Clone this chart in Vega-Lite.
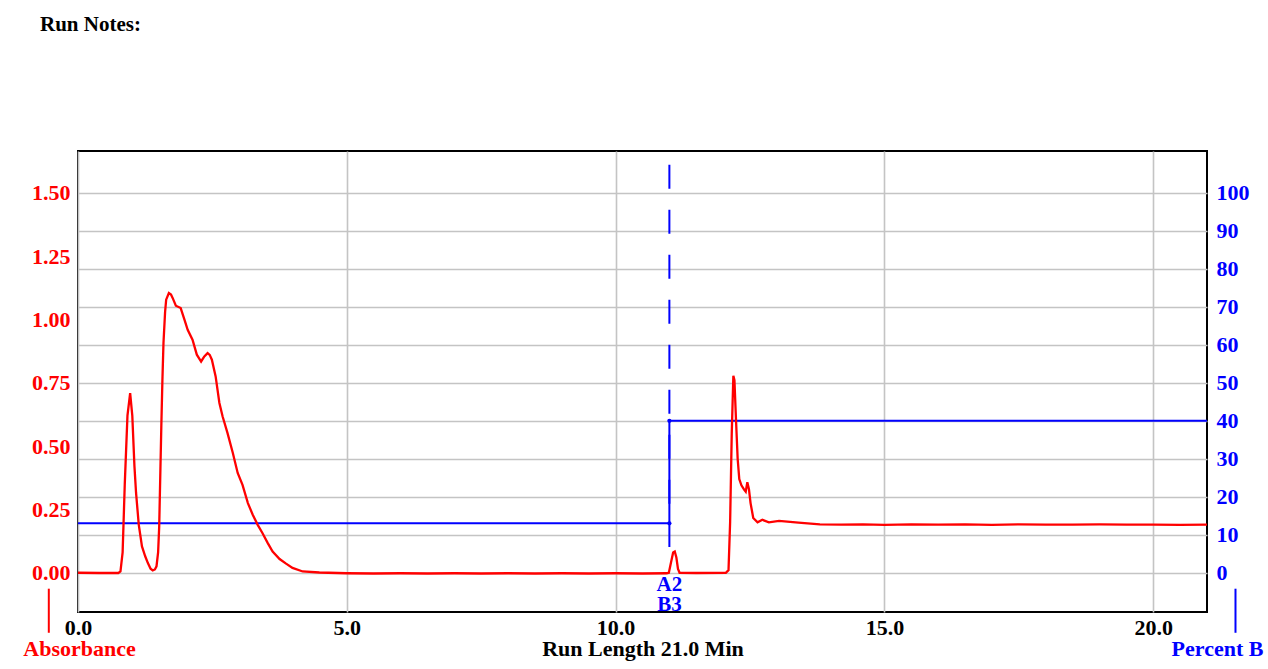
{
  "$schema": "https://vega.github.io/schema/vega-lite/v6.json",
  "autosize": "none",
  "width": 1129,
  "height": 461,
  "padding": {"left": 78, "top": 151, "right": 61, "bottom": 57},
  "background": "white",
  "title": {"text": "Run Notes:", "anchor": "start", "frame": "group", "dx": -38, "offset": 95, "baseline": "bottom", "font": "Liberation Serif", "fontSize": 21, "fontWeight": "bold", "color": "black"},
  "config": {
    "view": {"stroke": "black", "strokeWidth": 2},
    "axis": {"labelFont": "Liberation Serif", "labelFontSize": 22, "labelFontWeight": "bold", "titleFont": "Liberation Serif", "titleFontSize": 22, "titleFontWeight": "bold", "domain": false, "ticks": false, "gridColor": "#c4c4c4", "gridWidth": 1.6, "gridOpacity": 1}
  },
  "datasets": {
    "abs": [
      {"t": 0.00, "A": 0.000}, {"t": 0.40, "A": -0.001}, {"t": 0.75, "A": -0.001}, {"t": 0.79, "A": 0.005},
      {"t": 0.83, "A": 0.08}, {"t": 0.87, "A": 0.35}, {"t": 0.92, "A": 0.62}, {"t": 0.97, "A": 0.709},
      {"t": 1.01, "A": 0.62}, {"t": 1.05, "A": 0.42}, {"t": 1.08, "A": 0.315}, {"t": 1.13, "A": 0.19},
      {"t": 1.19, "A": 0.104}, {"t": 1.25, "A": 0.065}, {"t": 1.30, "A": 0.038}, {"t": 1.35, "A": 0.016},
      {"t": 1.39, "A": 0.009}, {"t": 1.43, "A": 0.013}, {"t": 1.46, "A": 0.025}, {"t": 1.49, "A": 0.08},
      {"t": 1.51, "A": 0.18}, {"t": 1.53, "A": 0.38}, {"t": 1.55, "A": 0.58}, {"t": 1.57, "A": 0.76},
      {"t": 1.59, "A": 0.907}, {"t": 1.62, "A": 1.03}, {"t": 1.64, "A": 1.078}, {"t": 1.69, "A": 1.104},
      {"t": 1.73, "A": 1.098}, {"t": 1.76, "A": 1.085}, {"t": 1.82, "A": 1.054}, {"t": 1.91, "A": 1.045},
      {"t": 1.98, "A": 0.999}, {"t": 2.04, "A": 0.959}, {"t": 2.13, "A": 0.92}, {"t": 2.21, "A": 0.861},
      {"t": 2.29, "A": 0.834}, {"t": 2.35, "A": 0.854}, {"t": 2.41, "A": 0.867}, {"t": 2.45, "A": 0.86},
      {"t": 2.49, "A": 0.841}, {"t": 2.56, "A": 0.775}, {"t": 2.63, "A": 0.67}, {"t": 2.69, "A": 0.617},
      {"t": 2.78, "A": 0.552}, {"t": 2.88, "A": 0.473}, {"t": 2.97, "A": 0.394}, {"t": 3.06, "A": 0.347},
      {"t": 3.16, "A": 0.275}, {"t": 3.25, "A": 0.229}, {"t": 3.34, "A": 0.19}, {"t": 3.43, "A": 0.157},
      {"t": 3.53, "A": 0.117}, {"t": 3.62, "A": 0.084}, {"t": 3.75, "A": 0.054}, {"t": 3.87, "A": 0.036},
      {"t": 3.99, "A": 0.019}, {"t": 4.18, "A": 0.005}, {"t": 4.49, "A": 0.001}, {"t": 5.0, "A": -0.002},
      {"t": 5.5, "A": -0.003}, {"t": 6.0, "A": -0.002}, {"t": 6.5, "A": -0.003}, {"t": 7.0, "A": -0.002},
      {"t": 7.5, "A": -0.003}, {"t": 8.0, "A": -0.002}, {"t": 8.5, "A": -0.003}, {"t": 9.0, "A": -0.002},
      {"t": 9.5, "A": -0.003}, {"t": 10.0, "A": -0.002}, {"t": 10.5, "A": -0.003}, {"t": 10.95, "A": -0.002},
      {"t": 10.99, "A": 0.0}, {"t": 11.03, "A": 0.04}, {"t": 11.07, "A": 0.08}, {"t": 11.10, "A": 0.084},
      {"t": 11.13, "A": 0.06}, {"t": 11.16, "A": 0.015}, {"t": 11.19, "A": 0.0}, {"t": 11.5, "A": -0.001},
      {"t": 12.05, "A": 0.0}, {"t": 12.10, "A": 0.01}, {"t": 12.13, "A": 0.2}, {"t": 12.16, "A": 0.55},
      {"t": 12.19, "A": 0.778}, {"t": 12.21, "A": 0.76}, {"t": 12.24, "A": 0.6}, {"t": 12.27, "A": 0.45},
      {"t": 12.30, "A": 0.37}, {"t": 12.34, "A": 0.345}, {"t": 12.39, "A": 0.328}, {"t": 12.42, "A": 0.32},
      {"t": 12.45, "A": 0.357}, {"t": 12.48, "A": 0.33}, {"t": 12.51, "A": 0.275}, {"t": 12.56, "A": 0.216},
      {"t": 12.64, "A": 0.199}, {"t": 12.73, "A": 0.209}, {"t": 12.85, "A": 0.199}, {"t": 13.04, "A": 0.205},
      {"t": 13.4, "A": 0.198}, {"t": 13.8, "A": 0.191}, {"t": 14.2, "A": 0.19}, {"t": 14.6, "A": 0.191},
      {"t": 15.0, "A": 0.189}, {"t": 15.5, "A": 0.191}, {"t": 16.0, "A": 0.19}, {"t": 16.5, "A": 0.191},
      {"t": 17.0, "A": 0.189}, {"t": 17.5, "A": 0.191}, {"t": 18.0, "A": 0.19}, {"t": 18.5, "A": 0.19},
      {"t": 19.0, "A": 0.191}, {"t": 19.5, "A": 0.19}, {"t": 20.0, "A": 0.19}, {"t": 20.5, "A": 0.189},
      {"t": 21.0, "A": 0.19}
    ],
    "grad": [
      {"i": 1, "t": 0, "B": 13}, {"i": 2, "t": 11.0, "B": 13}, {"i": 3, "t": 11.0, "B": 40}, {"i": 4, "t": 21.0, "B": 40}
    ],
    "dots": [{"t": 11.0, "B": 13}, {"t": 11.0, "B": 40}],
    "dash": [{"t": 11.0, "B": 107.4, "B2": 6.8}],
    "blueTick": [{"t": 21.53, "B": -4.2, "B2": -15.8}],
    "redTick": [{"t": -0.543, "A": -0.063, "A2": -0.237}],
    "labels": [{"t": 11.0, "A": -0.047, "label": "A2"}, {"t": 11.0, "A": -0.126, "label": "B3"}]
  },
  "encoding": {
    "x": {"field": "t", "type": "quantitative", "scale": {"domain": [0, 21], "nice": false, "zero": false},
      "axis": {"values": [0, 5, 10, 15, 20], "format": ".1f", "grid": true, "labelColor": "black", "labelPadding": 5, "title": "Run Length 21.0 Min", "titleColor": "black", "titlePadding": 0, "labelFlush": false}}
  },
  "layer": [
    {
      "encoding": {
        "y": {"field": "B", "type": "quantitative", "scale": {"domain": [-10.33, 111], "nice": false, "zero": false},
          "axis": {"orient": "right", "values": [0, 10, 20, 30, 40, 50, 60, 70, 80, 90, 100], "grid": true, "labelColor": "#0000ff", "labelPadding": 9, "title": "Percent B", "titleColor": "#0000ff", "titleAngle": 0, "titleAlign": "center", "titleBaseline": "middle", "titleX": 10, "titleY": 497}}
      },
      "layer": [
        {"data": {"name": "grad"}, "mark": {"type": "line", "color": "#0000ff", "strokeWidth": 2}, "encoding": {"order": {"field": "i"}}},
        {"data": {"name": "dots"}, "mark": {"type": "point", "filled": true, "color": "#0000ff", "size": 18, "opacity": 1}},
        {"data": {"name": "dash"}, "mark": {"type": "rule", "color": "#0000ff", "strokeWidth": 2, "strokeDash": [24, 21]}, "encoding": {"y2": {"field": "B2"}}},
        {"data": {"name": "blueTick"}, "mark": {"type": "rule", "color": "#0000ff", "strokeWidth": 2}, "encoding": {"y2": {"field": "B2"}}}
      ]
    },
    {
      "encoding": {
        "y": {"field": "A", "type": "quantitative", "scale": {"domain": [-0.155, 1.665], "nice": false, "zero": false},
          "axis": {"orient": "left", "values": [0, 0.25, 0.5, 0.75, 1.0, 1.25, 1.5], "format": ".2f", "grid": false, "labelColor": "#ff0000", "labelPadding": 8, "title": "Absorbance", "titleColor": "#ff0000", "titleAngle": 0, "titleAlign": "center", "titleBaseline": "middle", "titleX": 1, "titleY": 497}}
      },
      "layer": [
        {"data": {"name": "abs"}, "mark": {"type": "line", "color": "#ff0000", "strokeWidth": 2.3}},
        {"data": {"name": "redTick"}, "mark": {"type": "rule", "color": "#ff0000", "strokeWidth": 2}, "encoding": {"y2": {"field": "A2"}}},
        {"data": {"name": "labels"}, "mark": {"type": "text", "color": "#0000ff", "font": "Liberation Serif", "fontSize": 21, "fontWeight": "bold", "baseline": "middle", "align": "center"}, "encoding": {"text": {"field": "label"}}}
      ]
    }
  ],
  "resolve": {"scale": {"y": "independent"}}
}
